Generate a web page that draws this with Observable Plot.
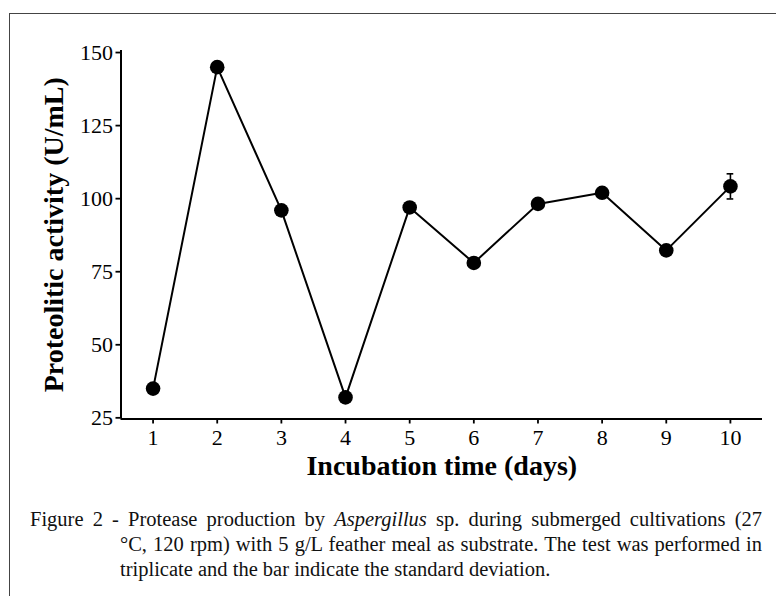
<!DOCTYPE html>
<html>
<head>
<meta charset="utf-8">
<script src="https://cdn.jsdelivr.net/npm/d3@7"></script>
<script src="https://cdn.jsdelivr.net/npm/@observablehq/plot@0.6"></script>
<style>
  html, body { margin: 0; padding: 0; width: 776px; height: 596px; overflow: hidden; background: #fff; }
  #frame { position: absolute; left: 9px; top: 13px; width: 820px; height: 700px; border: 1.6px solid #444; box-sizing: border-box; }
  #chart { position: absolute; left: 0; top: 0; }
  #caption { position: absolute; left: 30px; top: 507px; width: 732px; font-family: "Liberation Serif", serif; font-size: 20.5px; line-height: 25px; color: #111; }
  #caption div { white-space: nowrap; }
  #caption .l1, #caption .l2 { text-align: justify; text-align-last: justify; }
  #caption .l2, #caption .l3 { margin-left: 90px; }
</style>
</head>
<body>
<div id="frame"></div>
<div id="chart"></div>
<div id="caption">
  <div class="l1">Figure 2 - Protease production by <i>Aspergillus</i> sp. during submerged cultivations (27</div>
  <div class="l2">°C, 120 rpm) with 5 g/L feather meal as substrate. The test was performed in</div>
  <div class="l3">triplicate and the bar indicate the standard deviation.</div>
</div>
<script>
const days = [1, 2, 3, 4, 5, 6, 7, 8, 9, 10];
const activity = [35, 145, 96, 32, 97, 78, 98.2, 102, 82.3, 104.2];
const sd = [0, 0, 0, 0, 0, 0, 0, 0, 0, 4.3];
const yTicks = [25, 50, 75, 100, 125, 150];
const xTicks = [1, 2, 3, 4, 5, 6, 7, 8, 9, 10];
const xTitle = "Incubation time (days)";
const yTitle = "Proteolitic activity (U/mL)";

const data = days.map((d, i) => ({day: d, value: activity[i], sd: sd[i]}));
const errData = data.filter(d => d.sd > 0);

const font = "Liberation Serif";
const chart = Plot.plot({
  width: 776,
  height: 500,
  marginLeft: 120.5,
  marginRight: 14,
  marginTop: 50,
  marginBottom: 81.5,
  style: {fontFamily: font, background: "transparent", color: "black"},
  x: {domain: [0.5, 10.5]},
  y: {domain: [24.6, 150.7]},
  marks: [
    Plot.axisY({ticks: yTicks, tickSize: 5, tickPadding: 3, fontSize: 22, strokeWidth: 1.8, label: null, tickFormat: d => String(d)}),
    Plot.axisX({ticks: xTicks, tickSize: 5, tickPadding: 5, fontSize: 22, strokeWidth: 1.8, label: null, tickFormat: d => String(d)}),
    Plot.ruleX([0.5], {stroke: "black", strokeWidth: 2}),
    Plot.ruleY([24.6], {stroke: "black", strokeWidth: 2}),
    Plot.line(data, {x: "day", y: "value", stroke: "black", strokeWidth: 2}),
    Plot.ruleX(errData, {x: "day", y1: d => d.value - d.sd, y2: d => d.value + d.sd, stroke: "black", strokeWidth: 1.6}),
    Plot.ruleY(errData, {y: d => d.value - d.sd, x1: d => d.day - 0.052, x2: d => d.day + 0.052, stroke: "black", strokeWidth: 1.6}),
    Plot.ruleY(errData, {y: d => d.value + d.sd, x1: d => d.day - 0.052, x2: d => d.day + 0.052, stroke: "black", strokeWidth: 1.6}),
    Plot.dot(data, {x: "day", y: "value", r: 7.3, fill: "black", stroke: "none"}),
    Plot.text([xTitle], {frameAnchor: "bottom", textAnchor: "middle", lineAnchor: "middle", dy: 47.5, fontSize: 28, fontWeight: "bold", fontFamily: font, fill: "black"}),
    Plot.text([yTitle], {frameAnchor: "left", textAnchor: "middle", lineAnchor: "middle", rotate: -90, dx: -66.5, fontSize: 28, fontWeight: "bold", fontFamily: font, fill: "black"})
  ]
});
document.getElementById("chart").appendChild(chart);
</script>
</body>
</html>
